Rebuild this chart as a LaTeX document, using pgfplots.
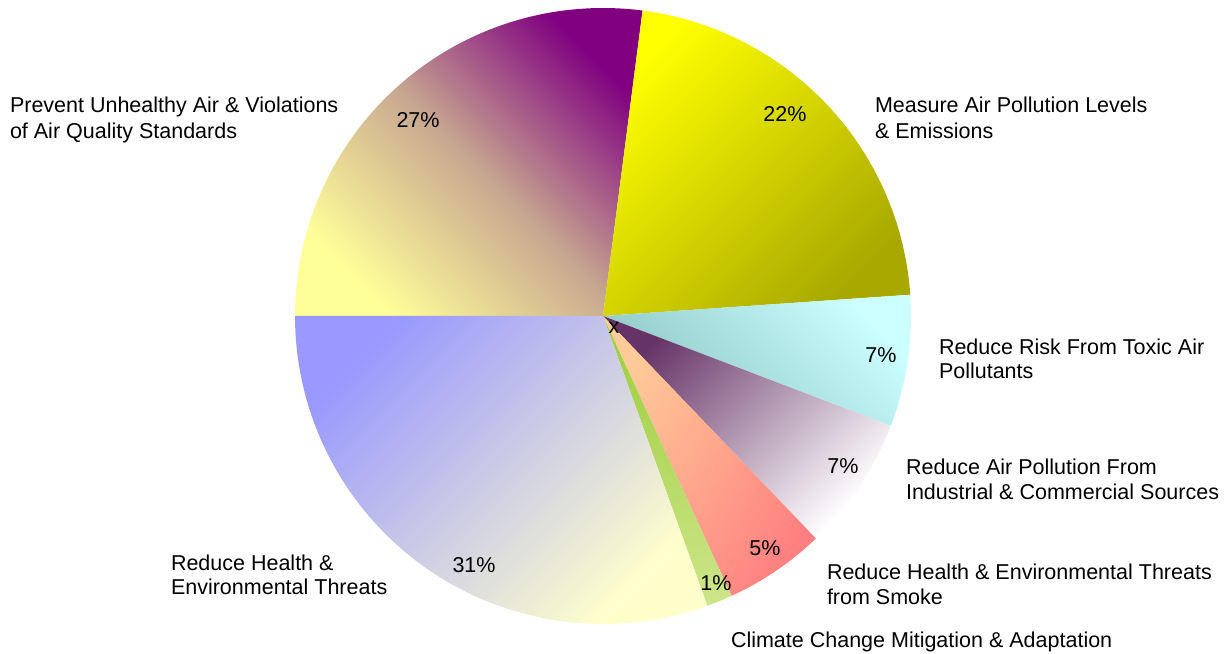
\documentclass[border=0pt]{standalone}
\usepackage{pgfplots}
\usepackage{pgfplotstable}
\pgfplotsset{compat=1.18}
\usepackage{fontspec}
\setmainfont{Liberation Sans}

% shares of the pie (percent), clockwise from 9 o'clock
\pgfplotstableread{
share
27.05
21.85
6.90
7.05
5.30
1.35
30.50
}\sharetable

\newcommand\getshare[2]{\pgfplotstablegetelem{#1}{share}\of\sharetable\let#2\pgfplotsretval}
\getshare{0}\vA \getshare{1}\vB \getshare{2}\vC \getshare{3}\vD
\getshare{4}\vE \getshare{5}\vF \getshare{6}\vG
\pgfmathsetmacro\aA{180}
\pgfmathsetmacro\aB{\aA-3.6*\vA}
\pgfmathsetmacro\aC{\aB-3.6*\vB}
\pgfmathsetmacro\aD{\aC-3.6*\vC}
\pgfmathsetmacro\aE{\aD-3.6*\vD}
\pgfmathsetmacro\aF{\aE-3.6*\vE}
\pgfmathsetmacro\aG{\aF-3.6*\vF}
\pgfmathsetmacro\aH{\aG-3.6*\vG}

\definecolor{pA1}{HTML}{FFFF99}\definecolor{pA2}{HTML}{800080}\definecolor{pAm}{HTML}{C8A890}
\definecolor{pB1}{HTML}{FFFF00}\definecolor{pB2}{HTML}{A8A800}
\definecolor{pC1}{HTML}{8CC4C4}\definecolor{pC2}{HTML}{CCFFFF}
\definecolor{pD1}{HTML}{663366}\definecolor{pD2}{HTML}{FFFFFF}
\definecolor{pE1}{HTML}{FFCC99}\definecolor{pE2}{HTML}{FF8080}
\definecolor{pF1}{HTML}{9CCC3A}\definecolor{pF2}{HTML}{CDE68A}
\definecolor{pG1}{HTML}{9999FF}\definecolor{pG2}{HTML}{FFFFCC}

\tikzset{lbl/.style={anchor=base west, inner sep=0pt, outer sep=0pt, font=\fontsize{10.75bp}{13bp}\selectfont},
         pct/.style={inner sep=0pt, outer sep=0pt, font=\fontsize{10.75bp}{13bp}\selectfont}}

\begin{document}
\begin{tikzpicture}
\begin{axis}[
  scale only axis, width=614bp, height=327bp,
  xmin=-1.9578, xmax=2.0292, ymin=-1.0974, ymax=1.02597,
  hide axis, clip=false,
]
\path (rel axis cs:0,0) rectangle (rel axis cs:1,1);
% shading angle theta puts the left colour in direction 90+theta
\addplot[draw=none, left color=pA1, right color=pA2, middle color=pAm, shading angle=135, domain=\aB:\aA, samples=90, variable=\t] ({cos(\t)},{sin(\t)}) -- (axis cs:0,0) -- cycle;
\addplot[draw=none, left color=pB1, right color=pB2, shading angle=45, domain=\aC:\aB, samples=80, variable=\t] ({cos(\t)},{sin(\t)}) -- (axis cs:0,0) -- cycle;
\addplot[draw=none, left color=pC1, right color=pC2, shading angle=135, domain=\aD:\aC, samples=30, variable=\t] ({cos(\t)},{sin(\t)}) -- (axis cs:0,0) -- cycle;
\addplot[draw=none, left color=pD1, right color=pD2, shading angle=45, domain=\aE:\aD, samples=30, variable=\t] ({cos(\t)},{sin(\t)}) -- (axis cs:0,0) -- cycle;
\addplot[draw=none, left color=pE1, right color=pE2, shading angle=60, domain=\aF:\aE, samples=25, variable=\t] ({cos(\t)},{sin(\t)}) -- (axis cs:0,0) -- cycle;
\addplot[draw=none, top color=pF1, bottom color=pF2, domain=\aG:\aF, samples=10, variable=\t] ({cos(\t)},{sin(\t)}) -- (axis cs:0,0) -- cycle;
\addplot[draw=none, left color=pG1, right color=pG2, shading angle=45, domain=\aH:\aG, samples=100, variable=\t] ({cos(\t)},{sin(\t)}) -- (axis cs:0,0) -- cycle;

% percentage labels
\node[pct] at (axis cs:-0.6006,0.6364) {27\%};
\node[pct] at (axis cs:0.5909,0.6558) {22\%};
\node[pct] at (axis cs:0.9026,-0.1266) {7\%};
\node[pct] at (axis cs:0.7792,-0.4870) {7\%};
\node[pct] at (axis cs:0.5260,-0.7532) {5\%};
\node[pct] at (axis cs:0.3669,-0.8669) {1\%};
\node[pct] at (axis cs:-0.4188,-0.8084) {31\%};
\node[pct] at (axis cs:0.0357,-0.0390) {x};

% category labels
\node[lbl] at (axis cs:-1.9253,0.6591) {Prevent Unhealthy Air \& Violations};
\node[lbl] at (axis cs:-1.9253,0.5747) {of Air Quality Standards};
\node[lbl] at (axis cs:0.8831,0.6591) {Measure Air Pollution Levels};
\node[lbl] at (axis cs:0.8831,0.5747) {\& Emissions};
\node[lbl] at (axis cs:1.0909,-0.1234) {Reduce Risk From Toxic Air};
\node[lbl] at (axis cs:1.0909,-0.2045) {Pollutants};
\node[lbl] at (axis cs:0.9838,-0.5130) {Reduce Air Pollution From};
\node[lbl] at (axis cs:0.9838,-0.5942) {Industrial \& Commercial Sources};
\node[lbl] at (axis cs:0.7273,-0.8539) {Reduce Health \& Environmental Threats};
\node[lbl] at (axis cs:0.7273,-0.9351) {from Smoke};
\node[lbl] at (axis cs:0.4156,-1.0747) {Climate Change Mitigation \& Adaptation};
\node[lbl] at (axis cs:-1.4026,-0.8247) {Reduce Health \&};
\node[lbl] at (axis cs:-1.4026,-0.9058) {Environmental Threats};
\end{axis}
\end{tikzpicture}
\end{document}
